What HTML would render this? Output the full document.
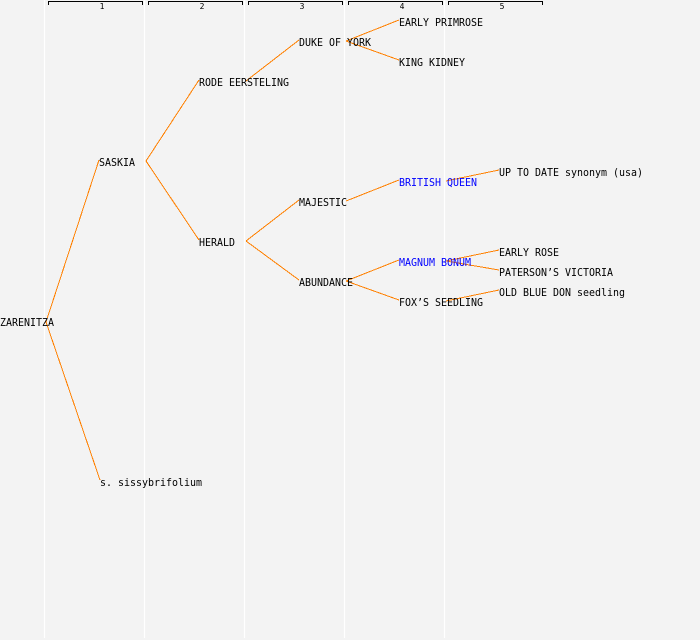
<!DOCTYPE html>
<html><head><meta charset="utf-8"><style>
html,body{margin:0;padding:0;background:#f3f3f3;}
svg{display:block;}
text{font-family:"DejaVu Sans Mono","Liberation Mono",monospace;font-size:11px;fill:#000;}
.n{font-size:8px;}
.b{fill:#0000ff;}
</style></head><body>
<svg width="700" height="640" viewBox="0 0 700 640" xmlns="http://www.w3.org/2000/svg">
<rect x="0" y="0" width="700" height="640" fill="#f3f3f3"/>
<g stroke="#ffffff" stroke-width="1.3">
<line x1="44.5" y1="0" x2="44.5" y2="638"/>
<line x1="144.5" y1="0" x2="144.5" y2="638"/>
<line x1="244.5" y1="0" x2="244.5" y2="638"/>
<line x1="344.5" y1="0" x2="344.5" y2="638"/>
<line x1="444.5" y1="0" x2="444.5" y2="638"/>
</g>
<g stroke="#000" stroke-width="1" fill="none">
<path d="M48.5 5 V1.5 H142.5 V5"/>
<path d="M148.5 5 V1.5 H242.5 V5"/>
<path d="M248.5 5 V1.5 H342.5 V5"/>
<path d="M348.5 5 V1.5 H442.5 V5"/>
<path d="M448.5 5 V1.5 H542.5 V5"/>
</g>
<g class="n" text-anchor="middle">
<text class="n" x="102" y="9">1</text>
<text class="n" x="202" y="9">2</text>
<text class="n" x="302" y="9">3</text>
<text class="n" x="402" y="9">4</text>
<text class="n" x="502" y="9">5</text>
</g>
<g stroke="#ff8000" stroke-width="1" fill="none" shape-rendering="crispEdges">
<line x1="46" y1="322" x2="99" y2="160"/>
<line x1="46" y1="322" x2="100" y2="480"/>
<line x1="146" y1="161" x2="199" y2="80"/>
<line x1="146" y1="161" x2="199" y2="240"/>
<line x1="246" y1="81" x2="299" y2="40"/>
<line x1="246" y1="241" x2="299" y2="200"/>
<line x1="246" y1="241" x2="299" y2="280"/>
<line x1="346" y1="41" x2="399" y2="20"/>
<line x1="346" y1="41" x2="399" y2="60"/>
<line x1="346" y1="201" x2="399" y2="180"/>
<line x1="346" y1="281" x2="399" y2="260"/>
<line x1="346" y1="281" x2="399" y2="300"/>
<line x1="446" y1="181" x2="499" y2="170"/>
<line x1="446" y1="261" x2="499" y2="250"/>
<line x1="446" y1="261" x2="499" y2="270"/>
<line x1="446" y1="301" x2="499" y2="290"/>
</g>
<g>
<text x="0" y="326" textLength="54" lengthAdjust="spacingAndGlyphs">ZARENITZA</text>
<text x="99" y="166" textLength="36" lengthAdjust="spacingAndGlyphs">SASKIA</text>
<text x="100" y="486" textLength="102" lengthAdjust="spacingAndGlyphs">s. sissybrifolium</text>
<text x="199" y="86" textLength="90" lengthAdjust="spacingAndGlyphs">RODE EERSTELING</text>
<text x="199" y="246" textLength="36" lengthAdjust="spacingAndGlyphs">HERALD</text>
<text x="299" y="46" textLength="72" lengthAdjust="spacingAndGlyphs">DUKE OF YORK</text>
<text x="299" y="206" textLength="48" lengthAdjust="spacingAndGlyphs">MAJESTIC</text>
<text x="299" y="286" textLength="54" lengthAdjust="spacingAndGlyphs">ABUNDANCE</text>
<text x="399" y="26" textLength="84" lengthAdjust="spacingAndGlyphs">EARLY PRIMROSE</text>
<text x="399" y="66" textLength="66" lengthAdjust="spacingAndGlyphs">KING KIDNEY</text>
<text class="b" x="399" y="186" textLength="78" lengthAdjust="spacingAndGlyphs">BRITISH QUEEN</text>
<text class="b" x="399" y="266" textLength="72" lengthAdjust="spacingAndGlyphs">MAGNUM BONUM</text>
<text x="399" y="306" textLength="84" lengthAdjust="spacingAndGlyphs">FOX’S SEEDLING</text>
<text x="499" y="176" textLength="144" lengthAdjust="spacingAndGlyphs">UP TO DATE synonym (usa)</text>
<text x="499" y="256" textLength="60" lengthAdjust="spacingAndGlyphs">EARLY ROSE</text>
<text x="499" y="276" textLength="114" lengthAdjust="spacingAndGlyphs">PATERSON’S VICTORIA</text>
<text x="499" y="296" textLength="126" lengthAdjust="spacingAndGlyphs">OLD BLUE DON seedling</text>
</g>
</svg>
</body></html>
